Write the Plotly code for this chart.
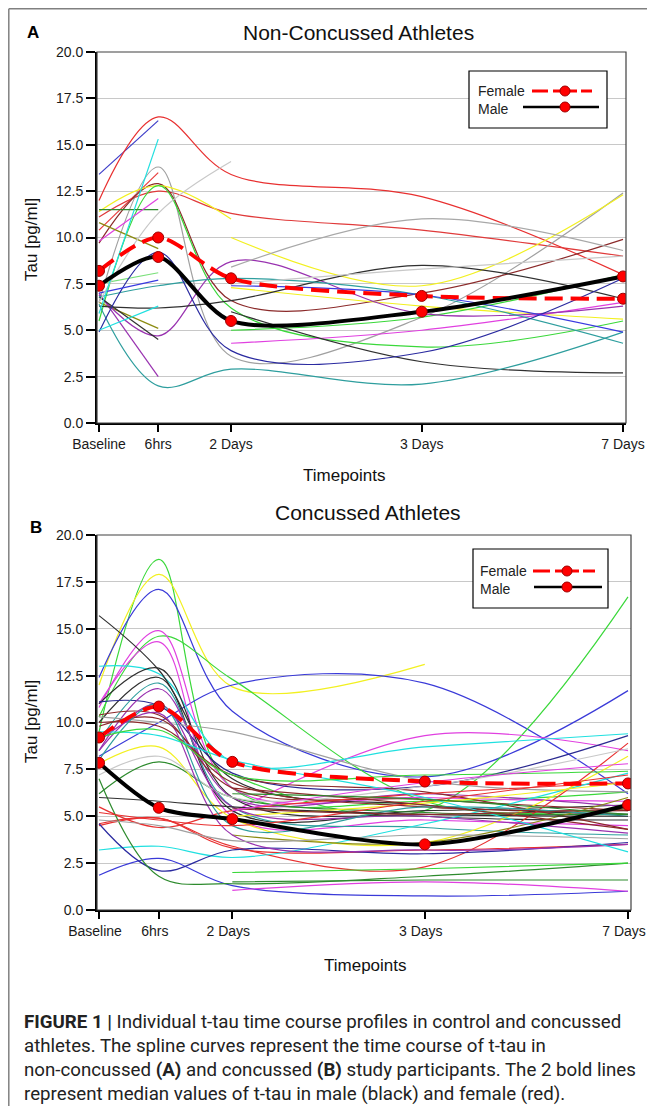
import plotly.graph_objects as go

# page body has an 8px margin: the figure is placed inside it
PAGE_W, PAGE_H, BODY = 655, 1114, 8
W, H = PAGE_W - BODY, PAGE_H - 2 * BODY

# ---------------- data ----------------
timepoints = ["Baseline", "6hrs", "2 Days", "3 Days", "7 Days"]
timepoint_pos = [0, 1, 2.23, 5.45, 8.85]

A_female_median = [8.2, 10.0, 7.8, 6.85, 6.7]
A_male_median = [7.4, 8.95, 5.5, 6.0, 7.9]
B_female_median = [9.2, 10.85, 7.9, 6.85, 6.75]
B_male_median = [7.85, 5.45, 4.85, 3.5, 5.6]

N = None
A_colors = ["#3a3ac8", "#e83030", "#e03a3a", "#e83a3a", "#a0a0a0", "#8b2a2a",
            "#f2f020", "#f2f020", "#f2f020", "#3ad83a", "#7ae07a", "#3ad83a",
            "#2e8b2e", "#e040e0", "#e040e0", "#8b8b10", "#8b8b10", "#9932b0",
            "#9932b0", "#303030", "#303030", "#303030", "#2e9e9e", "#2e9e9e",
            "#2a2aa0", "#3a3ae0", "#3a3ae0", "#c8c8c8", "#a8a8a8", "#c8c8c8",
            "#20e0e0", "#20e0e0"]
A_values = [
    [13.4, 16.3, N, N, N],
    [12.0, 16.5, 13.4, 12.2, 8.0],
    [11.1, 12.5, 11.3, 10.4, 9.0],
    [10.4, 13.5, N, N, N],
    [6.5, 13.8, 3.6, 5.7, 12.4],
    [9.7, 12.9, 6.6, 7.0, 9.9],
    [11.4, 12.8, 11.0, N, N],
    [N, N, 10.0, 7.4, 12.3],
    [N, N, 7.3, 6.3, 5.6],
    [5.5, 12.8, 6.2, 4.1, 5.5],
    [7.5, 8.1, N, N, N],
    [N, N, 5.0, 5.7, 8.0],
    [11.5, 11.5, N, N, N],
    [9.8, 12.1, N, N, N],
    [N, N, 4.3, 5.0, 6.5],
    [10.8, 9.4, N, N, N],
    [6.5, 5.1, N, N, N],
    [7.0, 2.5, N, N, N],
    [6.9, 4.7, 8.7, 5.9, 6.3],
    [6.3, 6.2, 6.6, 8.5, 6.7],
    [6.8, 4.5, N, N, N],
    [N, N, 6.0, 3.3, 2.7],
    [6.8, 7.4, 7.8, 6.9, 4.3],
    [6.4, 2.0, 2.9, 2.1, 4.9],
    [4.9, 9.2, 3.9, 3.8, 7.8],
    [7.0, 7.7, N, N, N],
    [N, N, 7.4, 6.9, 4.9],
    [6.5, 11.3, 14.1, N, N],
    [N, N, 8.4, 11.0, 9.3],
    [N, N, 7.5, 8.3, 9.0],
    [5.9, 15.3, N, N, N],
    [5.0, 6.3, N, N, N],
]

B_colors = ["#3ad83a", "#f2f020", "#3a3ad8", "#3a3ad8", "#3ad83a", "#3ad83a",
            "#e040e0", "#e040e0", "#e040e0", "#20e0e0", "#303030", "#303030",
            "#303030", "#2a2a90", "#2e9e9e", "#9932b0", "#8b2a2a", "#8b2a2a",
            "#a0a0a0", "#e83030", "#e83030", "#e83030", "#20e0e0", "#3a3ad8",
            "#2a2aa0", "#2e8b2e", "#2e8b2e", "#f2f020", "#f2f020", "#e040e0",
            "#3ad83a", "#2e8b2e", "#8b8b10", "#c8c8c8", "#9932b0", "#9932b0",
            "#8b2a2a", "#2e9e9e", "#e83030", "#303030", "#a0a0a0", "#20e0e0",
            "#3ad83a", "#8b2a2a", "#8b2a2a", "#e040e0", "#2e8b2e"]
B_values = [
    [9.5, 18.7, 6.5, 5.8, 6.3],
    [12.0, 17.9, 11.9, 13.1, N],
    [12.4, 17.1, 10.6, 7.1, 11.7],
    [8.2, 10.0, 12.0, 12.1, 6.2],
    [10.3, 14.6, 12.3, 5.8, 5.4],
    [N, N, 7.2, 5.3, 16.7],
    [10.8, 14.9, 6.5, 6.0, 5.8],
    [11.0, 14.3, 5.0, 4.8, 4.5],
    [N, N, 5.2, 9.3, 8.5],
    [13.0, 12.6, 7.9, 8.7, 9.4],
    [15.7, 12.8, 7.0, 5.6, 5.1],
    [11.0, 12.9, 6.0, 5.0, 4.8],
    [10.0, 12.4, 5.3, 5.3, 5.6],
    [11.1, 10.9, 7.3, 6.6, 9.3],
    [9.0, 12.1, 5.5, 4.4, 4.0],
    [8.5, 11.8, 6.0, 6.2, 5.5],
    [10.4, 10.4, 6.5, 5.9, 5.3],
    [10.0, 9.8, 7.2, 6.3, 4.3],
    [10.3, 10.0, 9.5, 6.9, 6.3],
    [4.6, 4.9, 3.4, 2.3, 8.9],
    [5.5, 4.4, 5.3, 6.2, 6.8],
    [4.5, 4.9, 3.3, 3.2, 3.5],
    [3.2, 3.4, 2.8, 4.6, 7.3],
    [1.85, 2.75, 1.3, 0.75, 1.0],
    [4.6, 2.1, 3.2, 3.0, 3.6],
    [7.0, 1.8, 1.4, 1.8, 2.5],
    [6.2, 7.9, 6.0, 5.2, 5.1],
    [7.8, 8.7, 4.9, 3.6, 8.2],
    [N, N, 5.0, 5.7, 6.8],
    [N, N, 1.05, 1.5, 1.0],
    [N, N, 2.0, 2.2, 2.5],
    [N, N, 1.5, 1.6, 1.6],
    [N, N, 4.0, 3.6, 6.0],
    [7.2, 8.2, 6.0, 6.6, 8.6],
    [9.0, 10.5, 4.0, 3.2, 3.5],
    [8.5, 11.0, 5.5, 5.0, 4.1],
    [9.8, 10.2, 6.8, 5.5, 5.3],
    [8.0, 11.0, 4.5, 5.5, 5.0],
    [5.2, 4.8, 4.5, 5.8, 7.2],
    [6.0, 5.8, 5.5, 5.1, 5.0],
    [4.8, 4.5, 3.7, 4.0, 3.8],
    [9.5, 9.3, 8.0, 6.0, 3.1],
    [9.2, 9.6, 7.2, 7.2, 7.4],
    [N, N, 5.4, 5.1, 5.4],
    [N, N, 6.5, 5.6, 4.3],
    [N, N, 5.3, 6.8, 7.8],
    [N, N, 6.2, 5.9, 5.1],
]

caption_lines = [
    "<b>FIGURE 1 |</b> Individual t-tau time course profiles in control and concussed",
    "athletes. The spline curves represent the time course of t-tau in",
    "non-concussed <b>(A)</b> and concussed <b>(B)</b> study participants. The 2 bold lines",
    "represent median values of t-tau in male (black) and female (red).",
]

# ---------------- helpers (page pixel -> paper fraction) ----------------
def px(x):
    return (x - BODY) / W

def py(y):
    return 1 - (y - BODY) / H

FONT = "Liberation Sans, Arial, sans-serif"
fig = go.Figure()

def add_panel(values, colors, fem, male, xa, ya):
    for vals, col in zip(values, colors):
        fig.add_trace(go.Scatter(
            x=timepoint_pos, y=vals, mode="lines", xaxis=xa, yaxis=ya,
            line=dict(color=col, width=1.2, shape="spline", smoothing=1.0),
            hoverinfo="skip", showlegend=False, connectgaps=False))
    fig.add_trace(go.Scatter(
        x=timepoint_pos, y=fem, mode="lines+markers", xaxis=xa, yaxis=ya,
        line=dict(color="#ff0000", width=4, dash="18px,8px", shape="spline", smoothing=0.8),
        marker=dict(size=11, color="#ff0000", line=dict(color="#a00000", width=1)),
        hoverinfo="skip", showlegend=False))
    fig.add_trace(go.Scatter(
        x=timepoint_pos, y=male, mode="lines+markers", xaxis=xa, yaxis=ya,
        line=dict(color="#000000", width=4, shape="spline", smoothing=0.8),
        marker=dict(size=11, color="#ff0000", line=dict(color="#a00000", width=1)),
        hoverinfo="skip", showlegend=False))

add_panel(A_values, A_colors, A_female_median, A_male_median, "x", "y")
add_panel(B_values, B_colors, B_female_median, B_male_median, "x2", "y2")

xcommon = dict(range=[-0.034, 8.90], tickvals=timepoint_pos, ticktext=timepoints,
               ticks="outside", ticklen=7, tickwidth=1.5, tickcolor="#000",
               showline=True, linecolor="#000", linewidth=2, showgrid=False,
               zeroline=False, tickfont=dict(family=FONT, size=14, color="#1a1a1a"),
               fixedrange=True, automargin=False, ticklabeloverflow="allow")
ycommon = dict(range=[0, 20], tickvals=[0, 2.5, 5, 7.5, 10, 12.5, 15, 17.5, 20],
               tickformat=".1f", ticks="outside", ticklen=9, tickwidth=1.5,
               tickcolor="#000", showline=True, linecolor="#000", linewidth=2,
               showgrid=True, gridcolor="#c8c8c8", gridwidth=1, zeroline=False,
               tickfont=dict(family=FONT, size=14, color="#1a1a1a"), fixedrange=True,
               automargin=False)

fig.update_layout(
    template="none",
    width=W, height=H, autosize=False,
    margin=dict(l=0, r=0, t=0, b=0, pad=0, autoexpand=False),
    paper_bgcolor="white", plot_bgcolor="white",
    font=dict(family=FONT),
    xaxis=dict(domain=[px(97), px(626)], anchor="y", **xcommon),
    yaxis=dict(domain=[py(423), py(52)], anchor="x", **ycommon),
    xaxis2=dict(domain=[px(97), px(631)], anchor="y2", ticklabelshift=-4, **xcommon),
    yaxis2=dict(domain=[py(910), py(535)], anchor="x2", **ycommon),
)

shapes = []
for xr, yr in (("x domain", "y domain"), ("x2 domain", "y2 domain")):
    shapes.append(dict(type="rect", xref=xr, yref=yr, x0=0, x1=1, y0=0, y1=1,
                       line=dict(color="#404040", width=1.2), layer="above"))
# figure border (left and top)
shapes.append(dict(type="line", xref="paper", yref="paper", x0=px(8.8), x1=px(8.8),
                   y0=py(8.8), y1=0, line=dict(color="#808080", width=1.5)))
shapes.append(dict(type="line", xref="paper", yref="paper", x0=px(8.8), x1=1,
                   y0=py(8.8), y1=py(8.8), line=dict(color="#808080", width=1.5)))

annotations = []

def legend(box, fy, my, fsegs, mseg, mx, tx):
    x0, x1, y0, y1 = box
    shapes.append(dict(type="rect", xref="paper", yref="paper", x0=px(x0), x1=px(x1),
                       y0=py(y1), y1=py(y0), fillcolor="white",
                       line=dict(color="#000", width=1.2), layer="above"))
    for a, b in fsegs:
        shapes.append(dict(type="line", xref="paper", yref="paper", x0=px(a), x1=px(b),
                           y0=py(fy), y1=py(fy), line=dict(color="#ff0000", width=3),
                           layer="above"))
    shapes.append(dict(type="line", xref="paper", yref="paper", x0=px(mseg[0]), x1=px(mseg[1]),
                       y0=py(my), y1=py(my), line=dict(color="#000", width=2.5), layer="above"))
    for yy in (fy, my):
        shapes.append(dict(type="circle", xref="paper", yref="paper",
                           x0=px(mx - 5), x1=px(mx + 5), y0=py(yy + 5), y1=py(yy - 5),
                           fillcolor="#ff0000", line=dict(color="#a00000", width=1),
                           layer="above"))
    annotations.append(dict(text="Female", x=px(tx), y=py(fy), xref="paper", yref="paper",
                            xanchor="left", yanchor="middle", showarrow=False,
                            font=dict(family=FONT, size=14, color="#222")))
    annotations.append(dict(text="Male", x=px(tx), y=py(my + 2), xref="paper", yref="paper",
                            xanchor="left", yanchor="middle", showarrow=False,
                            font=dict(family=FONT, size=14, color="#222")))

legend((469, 607, 71, 128), 91, 107, [(532, 548), (553, 577), (581, 592)], (523, 599), 565, 476)
legend((473, 608, 549, 608), 571, 587, [(533, 550), (555, 579), (583, 595)], (534, 602), 567, 478)

def text(t, x, y, size, bold=False, angle=0, anchor="center", color="#111", family=FONT):
    annotations.append(dict(text=f"<b>{t}</b>" if bold else t, x=px(x), y=py(y),
                            xref="paper", yref="paper", xanchor=anchor, yanchor="middle",
                            showarrow=False, textangle=angle,
                            font=dict(family=family, size=size, color=color)))

text("A", 33, 32, 17, bold=True, color="#000")
text("Non-Concussed Athletes", 358, 32, 21)
text("Tau [pg/ml]", 32, 240, 17, angle=-90)
text("Timepoints", 344, 475, 17)
text("B", 36, 527, 17, bold=True, color="#000")
text("Concussed Athletes", 368, 512, 21)
text("Tau [pg/ml]", 32, 722, 17, angle=-90)
text("Timepoints", 365, 965, 17)

CAP_FONT = "Roboto, sans-serif"
for i, line in enumerate(caption_lines):
    text(line, 22, 1022 + 24 * i, 18.7, anchor="left", color="#222", family=CAP_FONT)

fig.update_layout(shapes=shapes, annotations=annotations)
fig.write_html("out.html", config={"displayModeBar": False})
